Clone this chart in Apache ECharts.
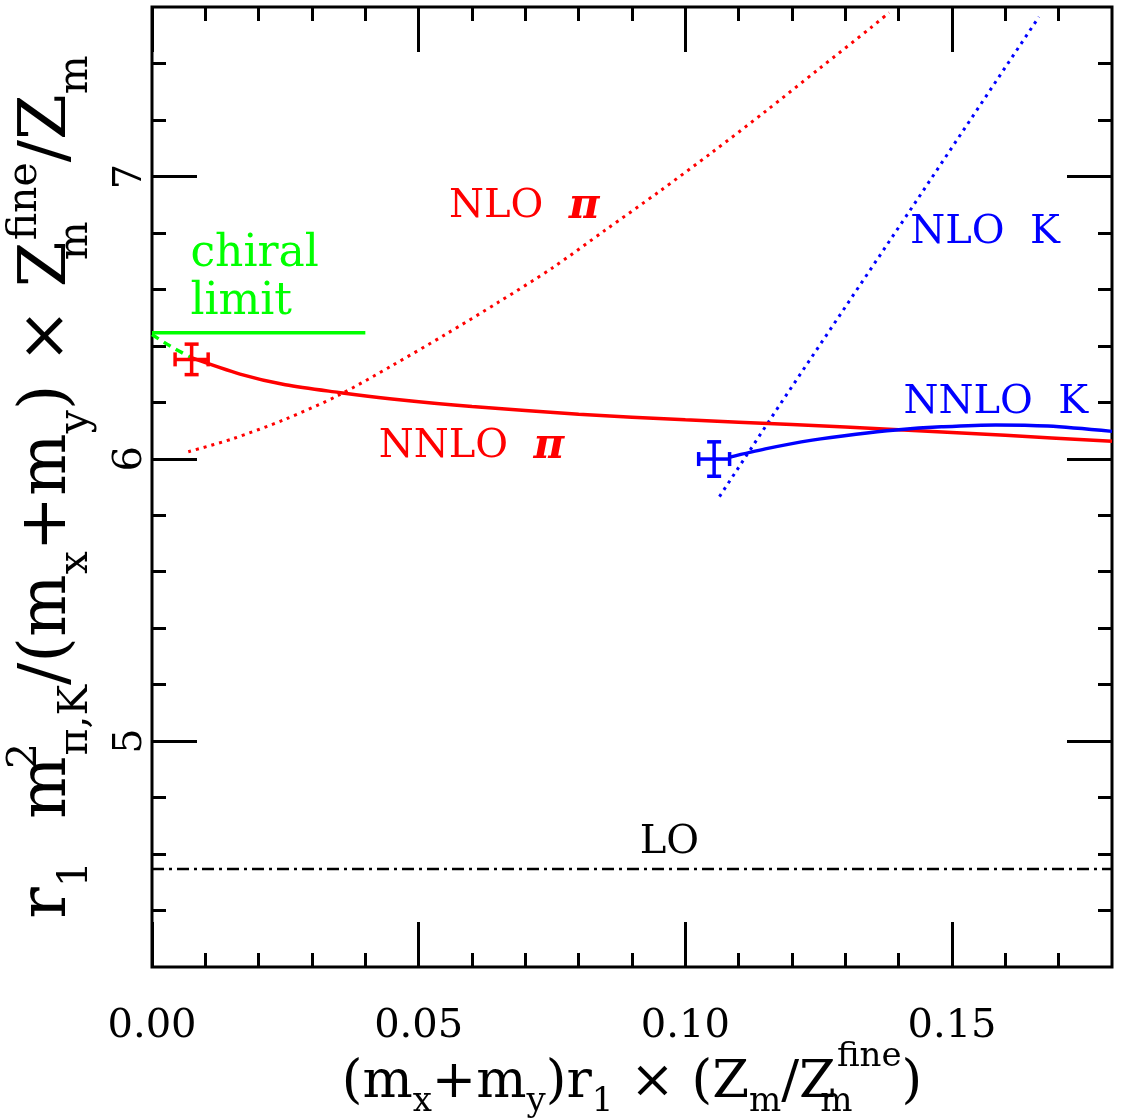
<!DOCTYPE html>
<html>
<head>
<meta charset="utf-8">
<script src="https://cdn.jsdelivr.net/npm/echarts@6/dist/echarts.min.js"></script>
<style>
  html, body { margin: 0; padding: 0; background: #fff; }
  #chart { width: 1122px; height: 1119px; }
</style>
</head>
<body>
<div id="chart"></div>
<script>
// ---- axis ranges and ticks ----
const X_MIN = 0, X_MAX = 0.18;
const Y_MIN = 4.2, Y_MAX = 7.6;
const xMajorTicks = [0, 0.05, 0.10, 0.15];
const xMinorTicks = [0.01, 0.02, 0.03, 0.04, 0.06, 0.07, 0.08, 0.09, 0.11, 0.12, 0.13, 0.14, 0.16, 0.17];
const yMajorTicks = [5, 6, 7];
const yMinorTicks = [4.4, 4.6, 4.8, 5.2, 5.4, 5.6, 5.8, 6.2, 6.4, 6.6, 6.8, 7.2, 7.4];

// ---- lattice points with errors: x, y, x error, y error ----
const piPoint = [0.00743, 6.352, 0.0031, 0.054];
const kPoint  = [0.1054, 5.999, 0.0029, 0.061];

// ---- NNLO fit, pion ----
const nnloPiX = [0.0075, 0.0165, 0.025, 0.035, 0.045, 0.06, 0.08, 0.10, 0.12, 0.14, 0.16, 0.18];
const nnloPiY = [6.357, 6.300, 6.262, 6.235, 6.212, 6.185, 6.158, 6.138, 6.121, 6.103, 6.083, 6.062];

// ---- NNLO fit, kaon ----
const nnloKX = [0.1082, 0.115, 0.1238, 0.132, 0.1395, 0.148, 0.1582, 0.168, 0.18];
const nnloKY = [6.005, 6.035, 6.066, 6.087, 6.102, 6.113, 6.120, 6.116, 6.097];

// ---- NLO fit, pion ----
const nloPiX = [0.0068, 0.015, 0.025, 0.035, 0.045, 0.055, 0.065, 0.075, 0.085, 0.095, 0.105, 0.115, 0.125, 0.135, 0.1382];
const nloPiY = [6.025, 6.07, 6.14, 6.225, 6.33, 6.44, 6.555, 6.675, 6.81, 6.945, 7.085, 7.23, 7.38, 7.53, 7.58];

// ---- NLO fit, kaon ----
const nloKX = [0.1064, 0.1182, 0.1425, 0.1663];
const nloKY = [5.866, 6.205, 6.890, 7.565];

// ---- chiral limit and extrapolation ----
const chiralX = [0, 0.04];
const chiralY = [6.446, 6.446];
const chiralExtrapX = [0, 0.0035, 0.0075];
const chiralExtrapY = [6.440, 6.398, 6.357];

// ---- leading order ----
const loX = [0, 0.18];
const loY = [4.547, 4.547];

// ---- in-plot annotations (anchor in data units) ----
const notes = [
  { text: '{t|NLO  }{i|π}',  x: 0.0698, y: 6.892, color: '#ff0000', align: 'center' },
  { text: '{t|NNLO  }{i|π}', x: 0.0599, y: 6.042, color: '#ff0000', align: 'center' },
  { text: '{t|NLO  K}',      x: 0.1562, y: 6.801, color: '#0000ff', align: 'center' },
  { text: '{t|NNLO  K}',     x: 0.1582, y: 6.199, color: '#0000ff', align: 'center' },
  { text: '{w|chiral}\n{w|limit}', x: 0.0072, y: 6.637, color: '#00ff00', align: 'left' },
  { text: '{t|LO}',          x: 0.0970, y: 4.639, color: '#000000', align: 'center' }
];

const FONT = "'DejaVu Serif', 'Liberation Serif', serif";
const RED = '#ff0000', BLUE = '#0000ff', GREEN = '#00ff00';
const pair = (xs, ys) => xs.map((x, i) => [x, ys[i]]);

function tickAxis(position, ticks, len, extra) {
  const horizontal = position === 'top' || position === 'bottom';
  return Object.assign({
    type: 'value', position: position,
    min: horizontal ? X_MIN : Y_MIN,
    max: horizontal ? X_MAX : Y_MAX,
    axisLine: { show: false, onZero: false },
    splitLine: { show: false },
    axisLabel: { show: false },
    axisTick: { show: true, inside: true, length: len, customValues: ticks,
                lineStyle: { color: '#000', width: 3 } }
  }, extra || {});
}

// axis title text styles (sub/superscripts shifted through token height + alignment)
function titleRich(main, small, lh, subH, supH) {
  const base = { fontFamily: FONT, color: '#000', lineHeight: lh };
  return {
    n:  Object.assign({}, base, { fontSize: main, verticalAlign: 'middle' }),
    s:  Object.assign({}, base, { fontSize: small, height: subH, verticalAlign: 'bottom' }),
    s0: Object.assign({}, base, { fontSize: small, height: subH, verticalAlign: 'bottom', width: 1 }),
    p:  Object.assign({}, base, { fontSize: small, height: supH, verticalAlign: 'top' }),
    p0: Object.assign({}, base, { fontSize: small, height: supH, verticalAlign: 'top', width: 1 })
  };
}
const xTitleRich = titleRich(53, 34, 90, 52, 38);
const yTitleRich = titleRich(66, 41, 110, 54, 64);

const chart = echarts.init(document.getElementById('chart'), null, { renderer: 'canvas' });

function errorBarSeries(point, color) {
  return {
    type: 'custom', coordinateSystem: 'cartesian2d', xAxisIndex: 0, yAxisIndex: 0,
    clip: true, z: 5, silent: true,
    data: [point],
    renderItem: function (params, api) {
      const x = api.value(0), y = api.value(1), ex = api.value(2), ey = api.value(3);
      const l = api.coord([x - ex, y]), r = api.coord([x + ex, y]);
      const t = api.coord([x, y + ey]), b = api.coord([x, y - ey]);
      const cap = 7;
      const st = { stroke: color, lineWidth: 3.5 };
      const seg = (x1, y1, x2, y2) => ({ type: 'line', shape: { x1, y1, x2, y2 }, style: st });
      return {
        type: 'group',
        children: [
          seg(l[0], l[1], r[0], r[1]),
          seg(t[0], t[1], b[0], b[1]),
          seg(l[0], l[1] - cap, l[0], l[1] + cap),
          seg(r[0], r[1] - cap, r[0], r[1] + cap),
          seg(t[0] - cap, t[1], t[0] + cap, t[1]),
          seg(b[0] - cap, b[1], b[0] + cap, b[1])
        ]
      };
    }
  };
}

function curve(xs, ys, color, width, type, smooth) {
  return {
    type: 'line', xAxisIndex: 0, yAxisIndex: 0,
    data: pair(xs, ys), showSymbol: false, symbol: 'none',
    smooth: smooth === undefined ? 0.3 : smooth, clip: true,
    lineStyle: { color: color, width: width, type: type, cap: 'butt' },
    emphasis: { disabled: true }, silent: true
  };
}

const option = {
  animation: false,
  backgroundColor: '#fff',
  grid: { left: 152, right: 10, top: 7, bottom: 152, show: true,
          containLabel: false, outerBoundsMode: 'none',
          borderColor: '#000', borderWidth: 3, backgroundColor: 'transparent' },
  xAxis: [
    tickAxis('bottom', xMajorTicks, 45, {
      axisLabel: { show: true, customValues: xMajorTicks, margin: 40,
                   formatter: v => v.toFixed(2), color: '#000', fontFamily: FONT, fontSize: 40 },
      name: '{n|(m}{s|x}{n|+m}{s|y}{n|)r}{s|1}{n| × (Z}{s|m}{n|/Z}{s0|m}{p|fine}{n|)}',
      nameLocation: 'middle', nameGap: 71, nameMoveOverlap: false,
      nameTextStyle: { rich: xTitleRich, lineHeight: 90 }
    }),
    tickAxis('top', xMajorTicks, 45),
    tickAxis('bottom', xMinorTicks, 14),
    tickAxis('top', xMinorTicks, 14)
  ],
  yAxis: [
    tickAxis('left', yMajorTicks, 45, {
      axisLabel: { show: true, customValues: yMajorTicks, margin: 1, rotate: 90,
                   formatter: v => String(v), color: '#000', fontFamily: FONT, fontSize: 40 },
      name: '{n|r}{s|1}{n|  m}{p0|2}{s|π,K}{n|/(m}{s|x}{n|+m}{s|y}{n|) × Z}{s0|m}{p|fine}{n|/Z}{s|m}',
      nameLocation: 'middle', nameGap: 14, nameRotate: 90,
      nameTextStyle: { rich: yTitleRich, lineHeight: 110 }
    }),
    tickAxis('right', yMajorTicks, 45),
    tickAxis('left', yMinorTicks, 14),
    tickAxis('right', yMinorTicks, 14)
  ],
  series: [
    curve(loX, loY, '#000', 2.5, [12, 5, 3, 5], false),
    curve(chiralX, chiralY, GREEN, 3.5, 'solid', false),
    curve(chiralExtrapX, chiralExtrapY, GREEN, 3.5, [8, 6], 0.3),
    curve(nloPiX, nloPiY, RED, 3, [3, 5]),
    curve(nloKX, nloKY, BLUE, 3, [3, 5], false),
    curve(nnloPiX, nnloPiY, RED, 3.5, 'solid'),
    curve(nnloKX, nnloKY, BLUE, 3.5, 'solid'),
    errorBarSeries(piPoint, RED),
    errorBarSeries(kPoint, BLUE),
    {
      type: 'custom', coordinateSystem: 'cartesian2d', xAxisIndex: 0, yAxisIndex: 0,
      z: 6, silent: true,
      data: notes.map(n => [n.x, n.y]),
      renderItem: function (params, api) {
        const n = notes[params.dataIndex];
        const p = api.coord([api.value(0), api.value(1)]);
        return {
          type: 'text', x: p[0], y: p[1],
          style: {
            text: n.text, fill: n.color, align: n.align, verticalAlign: 'middle',
            rich: {
              t: { fontFamily: FONT, fontSize: 40, lineHeight: 48, fill: n.color },
              w: { fontFamily: FONT, fontSize: 44, lineHeight: 48, fill: n.color },
              i: { fontFamily: FONT, fontSize: 42, lineHeight: 48, fontStyle: 'italic',
                   fontWeight: 'bold', fill: n.color }
            }
          }
        };
      }
    }
  ]
};

chart.setOption(option);
</script>
</body>
</html>
